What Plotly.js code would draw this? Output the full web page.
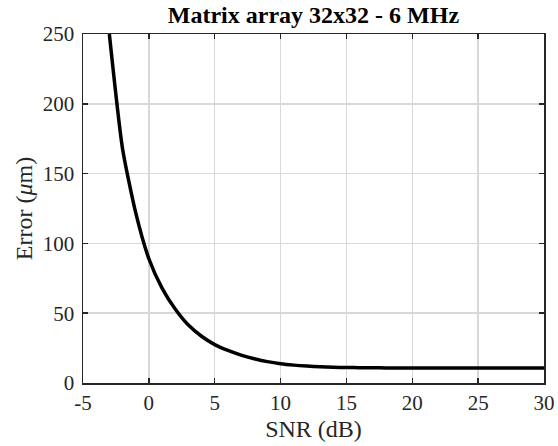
<!DOCTYPE html>
<html>
<head>
<meta charset="utf-8">
<script src="https://cdn.plot.ly/plotly-3.0.1.min.js"></script>
<style>
html,body{margin:0;padding:0;background:#fff;}
#chart{width:558px;height:446px;}
</style>
</head>
<body>
<div id="chart"></div>
<script>
// Data
const snr = [-3,-2,-1,0,1,2,3,4,5,6,7,8,9,10,11,12,13,14,15,16,17,18,19,20,21,22,23,24,25,26,27,28,29,30];
const errorUm = [250,168,122,89,68,53,41.5,33.5,27.5,23.3,20,17.4,15.3,13.8,12.8,12.1,11.6,11.3,11.1,11,10.9,10.8,10.8,10.7,10.7,10.7,10.7,10.7,10.7,10.7,10.7,10.7,10.7,10.7];
const xTicks = [-5,0,5,10,15,20,25,30];
const yTicks = [0,50,100,150,200,250];
const titleText = 'Matrix array 32x32 - 6 MHz';
const xTitle = 'SNR (dB)';
const yTitle = 'Error (<i>μ</i>m)';

const font = "'Liberation Serif', 'Times New Roman', serif";
const axisCommon = {
  showline: true, linecolor: '#262626', linewidth: 1.5, mirror: 'ticks',
  ticks: 'inside', ticklen: 5, tickwidth: 1.5, tickcolor: '#262626',
  showgrid: true, gridcolor: '#d8d8d8', gridwidth: 1.5,
  zeroline: false, tickfont: {family: font, size: 21, color: '#262626'},
  automargin: false
};

const trace = {
  x: snr, y: errorUm, type: 'scatter', mode: 'lines',
  line: {color: '#000000', width: 3.5, shape: 'spline', smoothing: 0.6}, hoverinfo: 'skip', cliponaxis: true
};

const layout = {
  width: 558, height: 446,
  margin: {l: 83, r: 14, t: 34, b: 63},
  paper_bgcolor: '#ffffff', plot_bgcolor: '#ffffff',
  showlegend: false,
  title: {text: '<b>' + titleText + '</b>', font: {family: font, size: 24, color: '#000'},
          x: 0.5617, xanchor: 'center', y: 0.985, yanchor: 'top', yref: 'container'},
  xaxis: Object.assign({}, axisCommon, {
    range: [-5, 30], tickmode: 'array', tickvals: xTicks, ticktext: xTicks.map(String),
    title: {text: xTitle, font: {family: font, size: 24, color: '#262626'}, standoff: 6}
  }),
  yaxis: Object.assign({}, axisCommon, {
    range: [0, 250], tickmode: 'array', tickvals: yTicks, ticktext: yTicks.map(String),
    ticklabelstandoff: 3,
    title: {text: yTitle, font: {family: font, size: 24, color: '#262626'}, standoff: 3}
  })
};

Plotly.newPlot('chart', [trace], layout, {displayModeBar: false, staticPlot: true});
</script>
</body>
</html>
